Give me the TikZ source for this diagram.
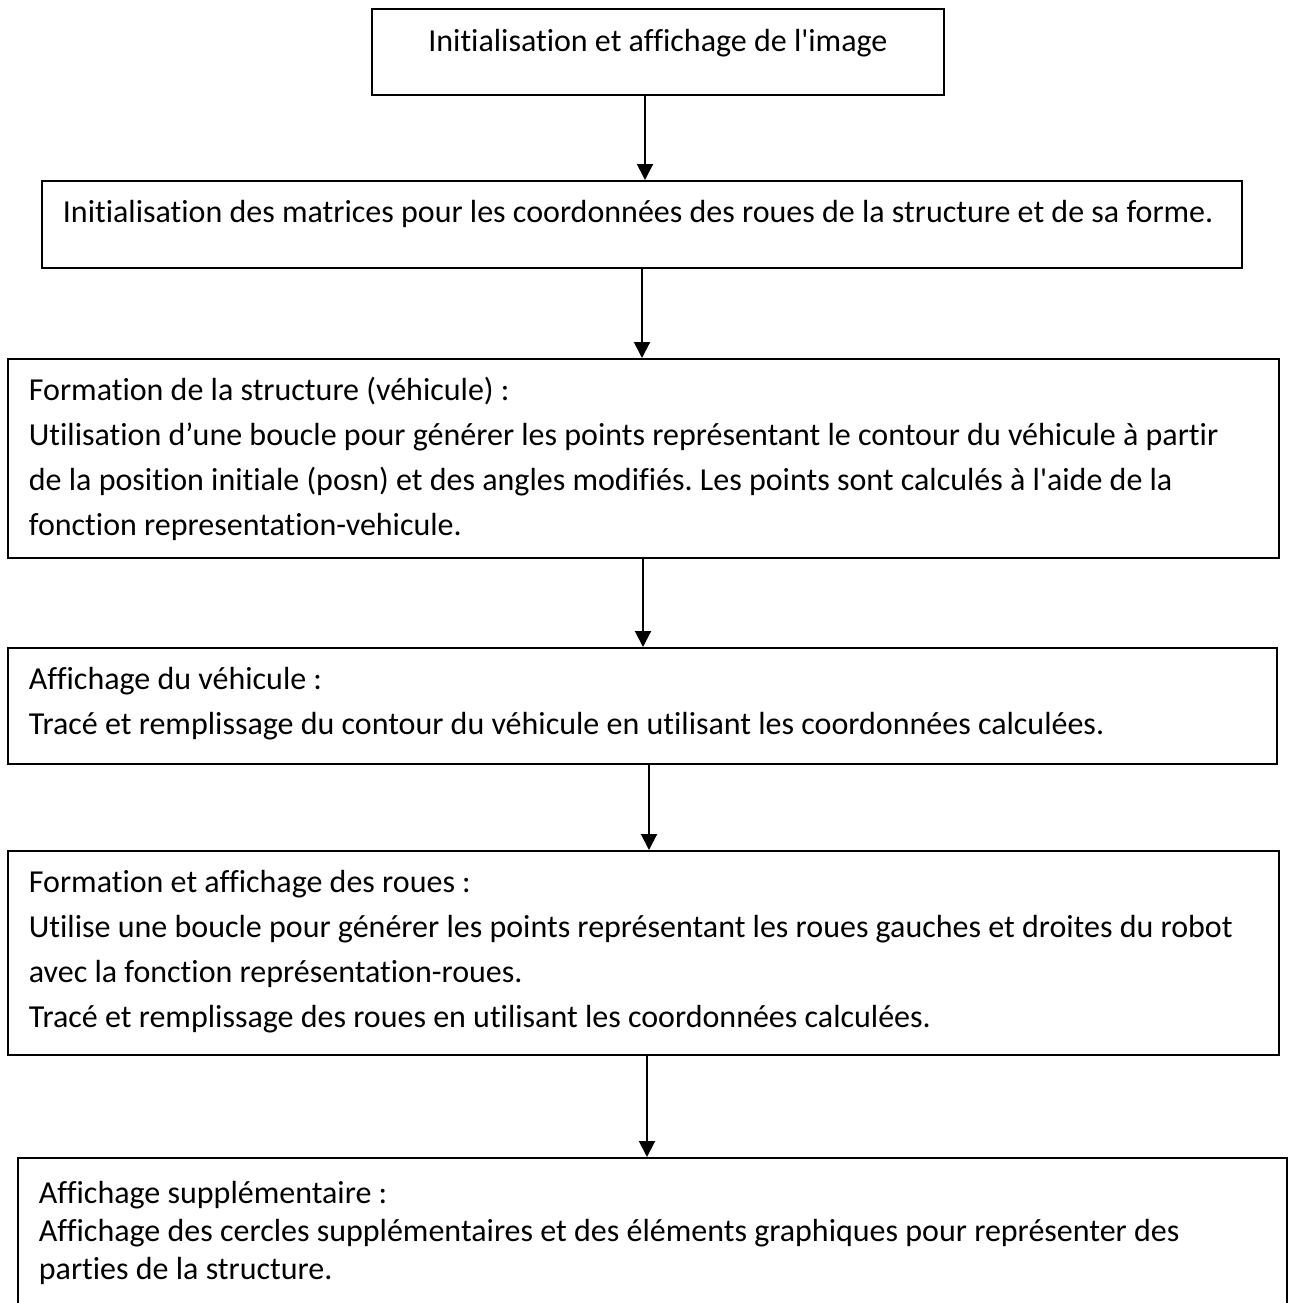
\documentclass[tikz,border=0pt]{standalone}
\usepackage{fontspec}
\setmainfont{Carlito}[Ligatures={TeXOff,NoCommon}]
\usetikzlibrary{arrows.meta}
\frenchspacing
% #1 text width, #2 box height, #3 line spacing, #4 first baseline offset, #5 text
\newcommand\fcbox[5]{\parbox[c][#2][t]{#1}{\raggedright\frenchspacing\fontsize{32pt}{#3}\selectfont\rule{0pt}{#4}#5}}
\begin{document}
\begin{tikzpicture}[x=1pt,y=-1pt,
  flowbox/.style={draw=black, line width=1.8pt, inner xsep=21pt, inner ysep=0pt, anchor=north west},
  flowarrow/.style={line width=2pt, -{Triangle[length=16pt,width=16pt]}}]
\useasboundingbox (0,0) rectangle (1292,1303);
\clip (0,0) rectangle (1292,1303);
\fill[white] (0,0) rectangle (1292,1303);

\node[flowbox] (b1) at (371,8) {\fcbox{530pt}{86pt}{38pt}{43pt}{\centering Initialisation et affichage de l'image}};
\node[flowbox] (b2) at (41,180) {\fcbox{1158pt}{87pt}{38pt}{42pt}{Initialisation des matrices pour les coordonnées des roues de la structure et de sa forme.}};
\node[flowbox] (b3) at (7,358) {\fcbox{1229pt}{199pt}{45pt}{42pt}{Formation de la structure (véhicule) :\\
Utilisation d’une boucle pour générer les points représentant le contour du véhicule à partir\\
de la position initiale (posn) et des angles modifiés. Les points sont calculés à l'aide de la\\
fonction representation-vehicule.}};
\node[flowbox] (b4) at (7,647) {\fcbox{1227pt}{116pt}{45pt}{42pt}{Affichage du véhicule :\\
Tracé et remplissage du contour du véhicule en utilisant les coordonnées calculées.}};
\node[flowbox] (b5) at (7,850) {\fcbox{1229pt}{204pt}{45pt}{42pt}{Formation et affichage des roues :\\
Utilise une boucle pour générer les points représentant les roues gauches et droites du robot\\
avec la fonction représentation-roues.\\
Tracé et remplissage des roues en utilisant les coordonnées calculées.}};
\node[flowbox] (b6) at (17,1157) {\fcbox{1227pt}{180pt}{38pt}{46pt}{Affichage supplémentaire :\\
Affichage des cercles supplémentaires et des éléments graphiques pour représenter des\\
parties de la structure.}};

\draw[flowarrow] (645,0 |- b1.south) -- (645,0 |- b2.north);
\draw[flowarrow] (642,0 |- b2.south) -- (642,0 |- b3.north);
\draw[flowarrow] (643,0 |- b3.south) -- (643,0 |- b4.north);
\draw[flowarrow] (649,0 |- b4.south) -- (649,0 |- b5.north);
\draw[flowarrow] (647,0 |- b5.south) -- (647,0 |- b6.north);
\end{tikzpicture}
\end{document}
